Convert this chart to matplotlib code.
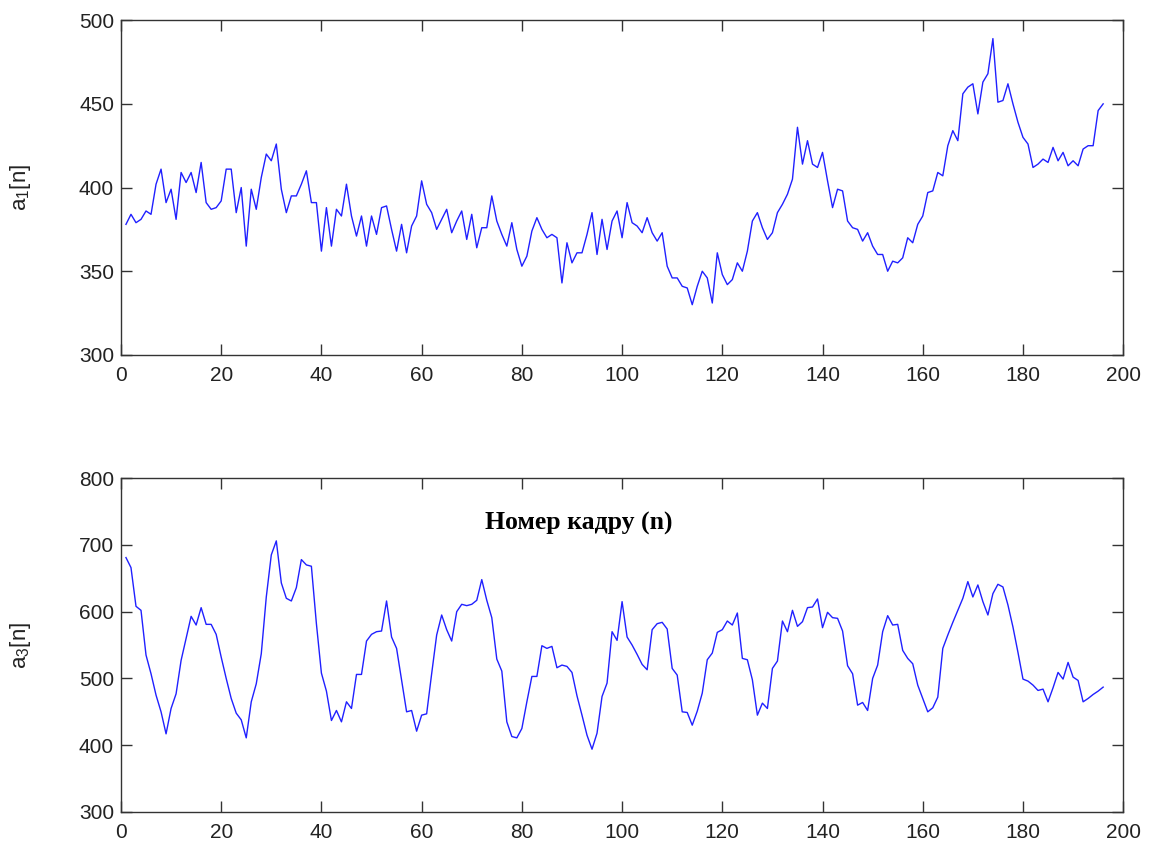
#!/usr/bin/env python3
"""Two stacked traces a1[n] and a3[n] against frame number."""

import matplotlib
matplotlib.use("Agg")
import matplotlib.pyplot as plt
import numpy as np

# frame numbers 1..196
frames = np.arange(1, 197)

a1 = [
    378, 384, 379, 381, 386, 384, 402, 411, 391, 399,
    381, 409, 403, 409, 397, 415, 391, 387, 388, 392,
    411, 411, 385, 400, 365, 399, 387, 406, 420, 416,
    426, 399, 385, 395, 395, 402, 410, 391, 391, 362,
    388, 365, 387, 383, 402, 383, 371, 383, 365, 383,
    372, 388, 389, 375, 362, 378, 361, 377, 383, 404,
    390, 385, 375, 381, 387, 373, 380, 386, 369, 384,
    364, 376, 376, 395, 380, 372, 365, 379, 363, 353,
    359, 374, 382, 375, 370, 372, 370, 343, 367, 355,
    361, 361, 372, 385, 360, 381, 363, 380, 386, 370,
    391, 379, 377, 373, 382, 373, 368, 373, 353, 346,
    346, 341, 340, 330, 341, 350, 346, 331, 361, 348,
    342, 345, 355, 350, 362, 380, 385, 376, 369, 373,
    385, 390, 396, 405, 436, 414, 428, 414, 412, 421,
    404, 388, 399, 398, 380, 376, 375, 368, 373, 365,
    360, 360, 350, 356, 355, 358, 370, 367, 378, 383,
    397, 398, 409, 407, 425, 434, 428, 456, 460, 462,
    444, 463, 468, 489, 451, 452, 462, 450, 439, 430,
    426, 412, 414, 417, 415, 424, 416, 421, 413, 416,
    413, 423, 425, 425, 446, 450,
]

a3 = [
    681, 666, 608, 602, 535, 507, 475, 450, 417, 455,
    477, 527, 560, 593, 580, 606, 581, 581, 566, 532,
    500, 470, 448, 438, 411, 465, 492, 537, 622, 685,
    706, 643, 620, 616, 636, 678, 670, 668, 582, 508,
    481, 437, 452, 435, 465, 455, 506, 506, 556, 566,
    570, 571, 616, 562, 545, 497, 450, 452, 421, 445,
    447, 507, 565, 595, 573, 556, 600, 611, 609, 611,
    617, 648, 617, 591, 529, 511, 435, 413, 411, 425,
    465, 503, 503, 549, 545, 548, 516, 520, 518, 509,
    474, 445, 415, 394, 418, 473, 493, 570, 557, 615,
    562, 550, 536, 521, 513, 573, 582, 584, 574, 515,
    505, 450, 449, 430, 451, 478, 528, 538, 569, 573,
    586, 580, 598, 530, 528, 498, 445, 463, 455, 515,
    526, 586, 570, 602, 578, 585, 606, 607, 619, 576,
    599, 591, 590, 571, 519, 507, 460, 464, 452, 500,
    520, 570, 594, 580, 581, 542, 530, 522, 490, 470,
    450, 456, 472, 545, 565, 584, 602, 620, 645, 622,
    640, 615, 595, 627, 641, 637, 610, 577, 539, 499,
    496, 490, 482, 484, 465, 486, 509, 499, 524, 502,
    497, 465, 470, 476, 481, 487,
]

x_ticks = np.arange(0, 201, 20)
a1_ticks = np.arange(300, 501, 50)
a3_ticks = np.arange(300, 801, 100)

plt.rcParams["font.family"] = ["Liberation Sans", "DejaVu Sans"]
plt.rcParams["mathtext.default"] = "regular"

fig = plt.figure(figsize=(11.52, 8.41), dpi=100)
ax1 = fig.add_axes([0.105, 0.578, 0.870, 0.398])
ax2 = fig.add_axes([0.105, 0.0345, 0.870, 0.397])


def style_axis(ax, yticks, label):
    ax.set_xlim(0, 200)
    ax.set_ylim(yticks[0], yticks[-1])
    ax.set_xticks(x_ticks)
    ax.set_yticks(yticks)
    ax.tick_params(direction="in", top=True, right=True, length=8,
                   width=1, colors="#333333", labelsize=15,
                   labelcolor="#222222", pad=5)
    ax.tick_params(axis="x", pad=8)
    for sp in ax.spines.values():
        sp.set_color("#333333")
        sp.set_linewidth(1)
    ax.set_ylabel(label, fontsize=16, color="#222222")
    ax.yaxis.set_label_coords(-0.088, 0.5)


ax1.plot(frames, a1, color="#2020ff", linewidth=1)
style_axis(ax1, a1_ticks, "a$_1$[n]")

ax2.plot(frames, a3, color="#2020ff", linewidth=1)
style_axis(ax2, a3_ticks, "a$_3$[n]")

# title sits inside the lower panel, as in the original
ax2.text(0.457, 0.865, "Номер кадру (n)", transform=ax2.transAxes,
         ha="center", va="center", fontsize=18.5, fontweight="bold",
         family=["Liberation Serif", "DejaVu Serif"])

fig.savefig("out.png", dpi=100)
plt.close(fig)
